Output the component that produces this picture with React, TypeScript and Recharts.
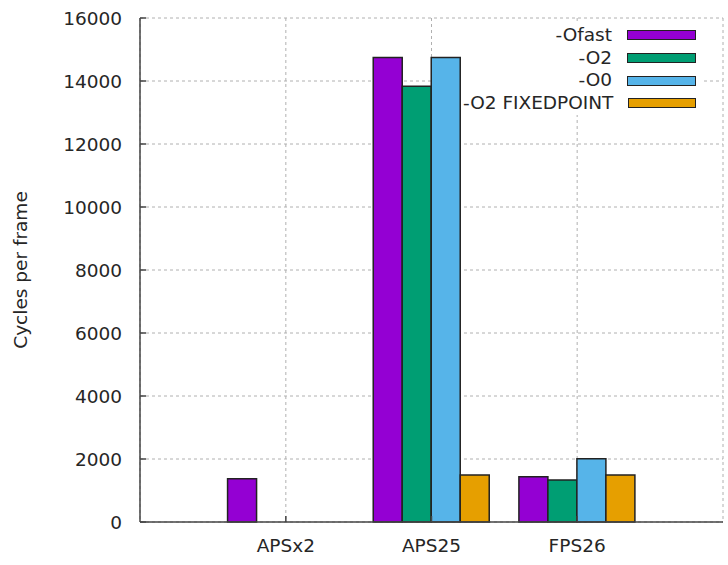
import { Bar, BarChart, CartesianGrid, XAxis, YAxis } from "recharts";

const categories = ["APSx2", "APS25", "FPS26"];
const ofastValues = [1370, 14750, 1440];
const o2Values = [null, 13830, 1330];
const o0Values = [null, 14750, 2010];
const fixedPointValues = [null, 1490, 1490];
const yTicks = [0, 2000, 4000, 6000, 8000, 10000, 12000, 14000, 16000];

const series = [
  { key: "ofast", name: "-Ofast", color: "#9400d3" },
  { key: "o2", name: "-O2", color: "#009e73" },
  { key: "o0", name: "-O0", color: "#56b4e9" },
  { key: "fixed", name: "-O2 FIXEDPOINT", color: "#e69f00" },
];

const data = categories.map((name, index) => ({
  name,
  ofast: ofastValues[index],
  o2: o2Values[index],
  o0: o0Values[index],
  fixed: fixedPointValues[index],
}));

const FONT = '"DejaVu Sans", sans-serif';
const FONT_SIZE = 18.5;
const TEXT_COLOR = "#262626";
const BORDER_COLOR = "#444";

function AxisTitle({ viewBox }: { viewBox?: { y: number; height: number } }) {
  const centerY = viewBox ? viewBox.y + viewBox.height / 2 : 270;

  return (
    <text
      x={20}
      y={centerY}
      transform={`rotate(-90, 20, ${centerY})`}
      textAnchor="middle"
      dominantBaseline="central"
      fontSize={FONT_SIZE}
      fontFamily={FONT}
      fill={TEXT_COLOR}
    >
      Cycles per frame
    </text>
  );
}

function KeyBox() {
  return (
    <div
      style={{
        position: "absolute",
        left: 463,
        top: 24,
        width: 239,
        background: "#fff",
        fontFamily: FONT,
        fontSize: FONT_SIZE,
        color: TEXT_COLOR,
      }}
    >
      {series.map((item) => (
        <div
          key={item.key}
          style={{
            height: 22.7,
            display: "flex",
            alignItems: "center",
            justifyContent: "flex-end",
            paddingRight: 6,
          }}
        >
          <span style={{ lineHeight: "22.7px", marginRight: 15, whiteSpace: "nowrap" }}>
            {item.name}
          </span>
          <span
            style={{
              display: "inline-block",
              width: 69,
              height: 10,
              boxSizing: "border-box",
              border: "1.5px solid #222",
              background: item.color,
            }}
          />
        </div>
      ))}
    </div>
  );
}

export default function App() {
  return (
    <div
      style={{
        position: "absolute",
        left: 0,
        top: 0,
        width: 728,
        height: 565,
        background: "#fff",
      }}
    >
      <BarChart
        width={728}
        height={565}
        data={data}
        margin={{ top: 18, right: 5, bottom: 0, left: 60 }}
        barCategoryGap="10%"
        barGap={0}
      >
        <CartesianGrid stroke="#b0b0b0" strokeDasharray="3 3" />

        <XAxis
          dataKey="name"
          height={43}
          padding={{ left: 73, right: 73 }}
          tickSize={-6}
          tickMargin={23}
          axisLine={{ stroke: BORDER_COLOR, strokeWidth: 1.5 }}
          tickLine={{ stroke: BORDER_COLOR, strokeWidth: 1.5 }}
          tick={{ fontSize: FONT_SIZE, fontFamily: FONT, fill: TEXT_COLOR }}
        />

        <XAxis
          xAxisId="top"
          dataKey="name"
          orientation="top"
          height={0}
          padding={{ left: 73, right: 73 }}
          tickSize={-6}
          tick={false}
          axisLine={{ stroke: BORDER_COLOR, strokeWidth: 1.5 }}
          tickLine={{ stroke: BORDER_COLOR, strokeWidth: 1.5 }}
        />

        <YAxis
          width={80}
          domain={[0, 16000]}
          ticks={yTicks}
          interval={0}
          tickSize={-6}
          tickMargin={24}
          axisLine={{ stroke: BORDER_COLOR, strokeWidth: 1.5 }}
          tickLine={{ stroke: BORDER_COLOR, strokeWidth: 1.5 }}
          tick={{ fontSize: FONT_SIZE, fontFamily: FONT, fill: TEXT_COLOR }}
          label={<AxisTitle />}
        />

        <YAxis
          yAxisId="right"
          orientation="right"
          width={0}
          domain={[0, 16000]}
          ticks={yTicks}
          interval={0}
          tickSize={-6}
          tick={false}
          axisLine={{ stroke: BORDER_COLOR, strokeWidth: 1.5 }}
          tickLine={{ stroke: BORDER_COLOR, strokeWidth: 1.5 }}
        />

        {series.map((item) => (
          <Bar
            key={item.key}
            dataKey={item.key}
            name={item.name}
            fill={item.color}
            stroke="#222"
            strokeWidth={1.5}
            isAnimationActive={false}
          />
        ))}
      </BarChart>

      <KeyBox />
    </div>
  );
}
